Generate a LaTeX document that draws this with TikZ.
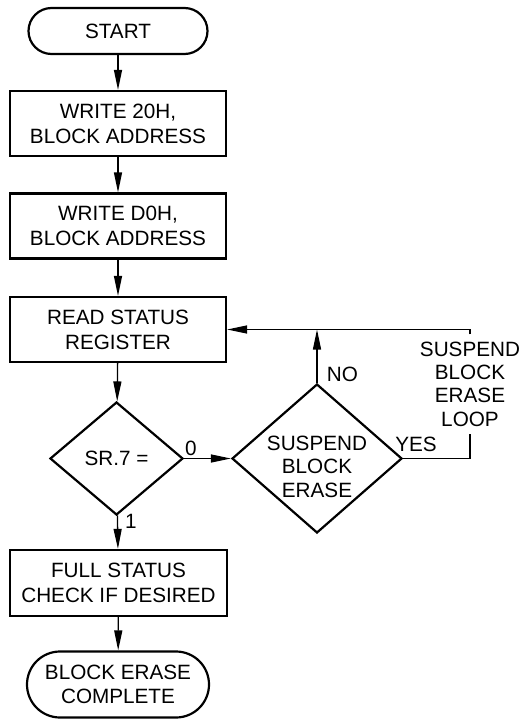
\documentclass[tikz,border=0pt]{standalone}
\usepackage{fontspec}
\setmainfont{Liberation Sans}
\usetikzlibrary{shapes.geometric,arrows.meta}
\newcommand{\chartfont}{\fontsize{20.7bp}{23.4bp}\selectfont}
\tikzstyle{terminal}=[rectangle, draw=black, line width=2.2bp, rounded corners=23bp, minimum width=179bp, minimum height=46bp, inner sep=0pt, align=center, font=\chartfont]
\tikzstyle{process}=[rectangle, draw=black, line width=2.2bp, minimum width=216bp, minimum height=65bp, inner sep=0pt, align=center, font=\fontsize{20.7bp}{25bp}\selectfont]
\tikzstyle{decision}=[diamond, draw=black, line width=2.2bp, inner sep=0pt, align=center, font=\chartfont]
\tikzstyle{tag}=[inner sep=0pt, align=center, font=\chartfont]
\tikzstyle{flow}=[line width=1.3bp, -{Triangle[length=20bp,width=8bp]}]
\tikzstyle{link}=[line width=1.3bp]

\begin{document}
\begin{tikzpicture}[x=1bp, y=1bp]
    \useasboundingbox (0,0) rectangle (527,-719);

    \node (start) at (118, -31)    [terminal] {START};
    \node (write20) at (118, -123.5) [process] {WRITE 20H,\\BLOCK ADDRESS};
    \node (writeD0) at (118, -226)   [process] {WRITE D0H,\\BLOCK ADDRESS};
    \node (readSR) at (118, -329.5)  [process] {READ STATUS\\REGISTER};
    \node (sr7) at (116.5, -458.5)   [decision, minimum width=133bp, minimum height=113bp] {SR.7 =};
    \node (suspend) at (317, -458.5) [decision, minimum width=170bp, minimum height=149bp] {};
    \node (suspendtext) at (317, -466.5) [tag] {SUSPEND\\BLOCK\\ERASE};
    \node (fullcheck) at (118.5, -583) [process, minimum width=217bp, minimum height=66bp] {FULL STATUS\\CHECK IF DESIRED};
    \node (done) at (118, -684.5) [terminal, minimum width=182bp, minimum height=66bp, rounded corners=33bp] {BLOCK ERASE\\COMPLETE};
    \node (loop) at (470, -384) [tag, inner ysep=7bp] {SUSPEND\\BLOCK\\ERASE\\LOOP};

    \draw (start) -- (write20) [flow];
    \draw (write20) -- (writeD0) [flow];
    \draw (writeD0) -- (readSR) [flow];
    \draw (readSR) -- (sr7) [flow];
    \draw (sr7) -- (fullcheck) [flow];
    \draw (fullcheck) -- (done) [flow];

    \draw (sr7.east) -- (suspend.west) [flow];
    \draw (suspend.north) -- (suspend.north |- readSR.east) [flow];
    \draw (suspend.east) -| (loop.south) [link];
    \draw (loop.north) |- (readSR.east) [flow];

    \node (zero) at (190.8, -448.3) [tag] {0};
    \node (one) at (131, -521.7) [tag] {1};
    \node (no) at (342.5, -374) [tag] {NO};
    \node (yes) at (416, -444) [tag] {YES};
  \end{tikzpicture}
\end{document}
